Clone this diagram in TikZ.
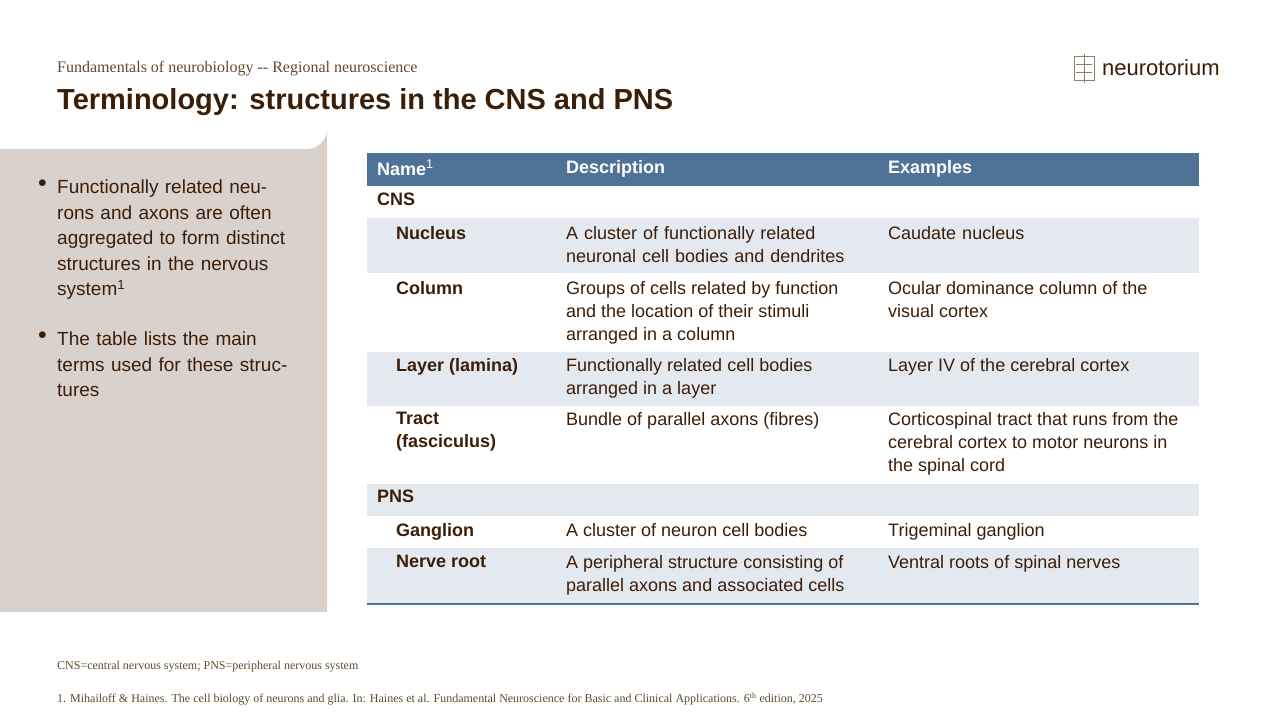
\documentclass[tikz,border=0pt]{standalone}
\usepackage{fontspec}
\setmainfont{Liberation Sans}
\newfontfamily\serifnt{Liberation Serif}
\usetikzlibrary{positioning}
\definecolor{brown}{HTML}{3B1E08}
\definecolor{subbrown}{HTML}{5E4B2C}
\definecolor{hdrblue}{HTML}{4E7397}
\definecolor{rowgray}{HTML}{E4E9F0}
\definecolor{panel}{HTML}{D9D1CB}
\tikzset{
  cell/.style={anchor=north west, inner sep=0pt, align=left, text=brown,
    font=\fontsize{18}{23}\selectfont},
  bcell/.style={cell, font=\fontsize{18}{23}\selectfont\bfseries},
  hcell/.style={bcell, text=white},
  note/.style={anchor=west, inner sep=0pt, text=subbrown, font=\serifnt\fontsize{12}{14}\selectfont},
}
\begin{document}
\begin{tikzpicture}[x=1pt,y=-1pt]
\useasboundingbox (0,0) rectangle (1280,720);

% header
\node [anchor=west, inner sep=0pt, text=subbrown, font=\serifnt\fontsize{16}{18}\selectfont] (sub) at (57,69) {Fundamentals of neurobiology -- Regional neuroscience};
\node [anchor=west, inner sep=0pt, text=brown, font=\fontsize{29}{32}\selectfont\bfseries] (title) at (57,102) {Terminology: structures in the CNS and PNS};
\node [anchor=west, inner sep=0pt, text=brown, font=\fontsize{22}{24}\selectfont] (logo) at (1102,68) {neurotorium};
\draw [subbrown!70, line width=0.8] (1074,56) rectangle (1094,80) (1084,54) -- (1084,83) (1076,64) -- (1092,64) (1076,72) -- (1092,72);

% left panel
\fill [panel] (0,149) -- (307,149) arc (90:0:20) -- (327,612) -- (0,612) -- cycle;
\node [cell, text width=240pt, font=\fontsize{19}{25.5}\selectfont] (bul1) at (38,180) {$\bullet$};
\node [cell, text width=240pt, font=\fontsize{19}{25.5}\selectfont] (txt1) at (57,180) {Functionally related neurons and axons are often aggregated to form distinct structures in the nervous system\textsuperscript{1}};
\node [cell, font=\fontsize{19}{25.5}\selectfont] (bul2) at (38,332) {$\bullet$};
\node [cell, text width=240pt, font=\fontsize{19}{25.5}\selectfont] (txt2) at (57,332) {The table lists the main terms used for these structures};

% table backgrounds
\fill [hdrblue] (367,153) rectangle (1199,186);
\fill [rowgray] (367,218) rectangle (1199,273);
\fill [rowgray] (367,352) rectangle (1199,406);
\fill [rowgray] (367,484) rectangle (1199,516);
\fill [rowgray] (367,548) rectangle (1199,604);
\draw [hdrblue, line width=1.5] (367,604) -- (1199,604);

% header row
\node [hcell] (hname) at (377,160) {Name\textsuperscript{\normalfont 1}};
\node [hcell] (hdesc) at (566,160) {Description};
\node [hcell] (hexam) at (888,160) {Examples};

\node [bcell] (cns) at (377,193) {CNS};
\node [bcell] (nuc) at (396,226) {Nucleus};
\node [cell, text width=300pt] (nucd) at (566,226) {A cluster of functionally related\\neuronal cell bodies and dendrites};
\node [cell, text width=310pt] (nuce) at (888,226) {Caudate nucleus};
\node [bcell] (col) at (396,281) {Column};
\node [cell] (cold) at (566,281) {Groups of cells related by function\\and the location of their stimuli\\arranged in a column};
\node [cell] (cole) at (888,281) {Ocular dominance column of the\\visual cortex};
\node [bcell] (lay) at (396,358) {Layer (lamina)};
\node [cell] (layd) at (566,358) {Functionally related cell bodies\\arranged in a layer};
\node [cell] (laye) at (888,358) {Layer IV of the cerebral cortex};
\node [bcell] (tra) at (396,412) {Tract\\(fasciculus)};
\node [cell] (trad) at (566,412) {Bundle of parallel axons (fibres)};
\node [cell] (trae) at (888,412) {Corticospinal tract that runs from the\\cerebral cortex to motor neurons in\\the spinal cord};
\node [bcell] (pns) at (377,490) {PNS};
\node [bcell] (gan) at (396,523) {Ganglion};
\node [cell] (gand) at (566,523) {A cluster of neuron cell bodies};
\node [cell] (gane) at (888,523) {Trigeminal ganglion};
\node [bcell] (ner) at (396,555) {Nerve root};
\node [cell] (nerd) at (566,555) {A peripheral structure consisting of\\parallel axons and associated cells};
\node [cell] (nere) at (888,555) {Ventral roots of spinal nerves};

% footnotes
\node [note] (abbr) at (57,667) {CNS=central nervous system; PNS=peripheral nervous system};
\node [note] (ref) at (57,699) {1. Mihailoff \& Haines. The cell biology of neurons and glia. In: Haines et al. Fundamental Neuroscience for Basic and Clinical Applications. 6\textsuperscript{th} edition, 2025};
\end{tikzpicture}
\end{document}
